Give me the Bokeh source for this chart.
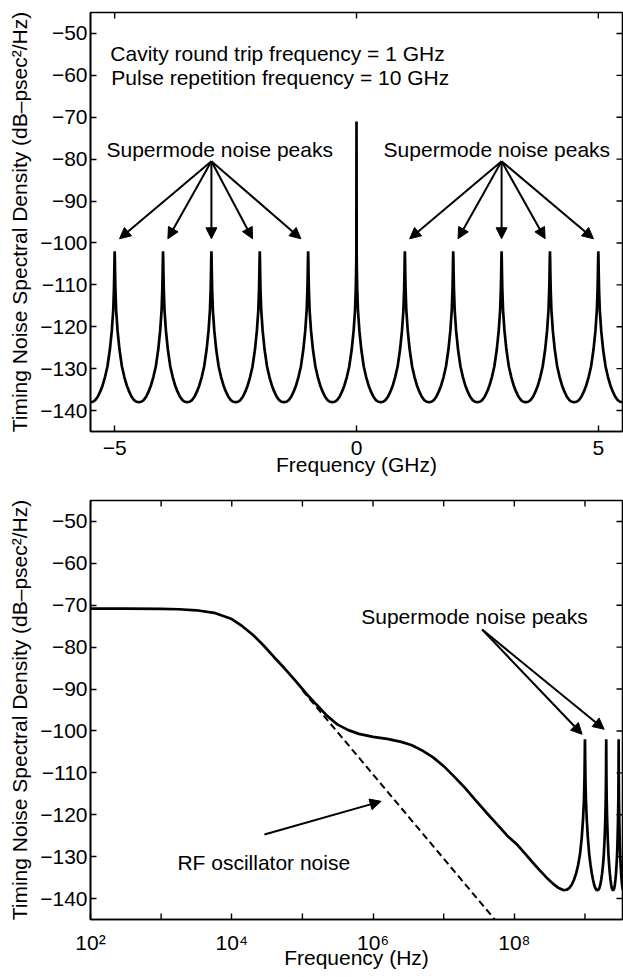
import math
from bokeh.plotting import figure
from bokeh.layouts import column
from bokeh.models import FixedTicker, Arrow, NormalHead, Label
from bokeh.embed import file_html
from bokeh.resources import INLINE

FONT = "Liberation Sans"
FS = "21px"

# ---------------- data ----------------
# top panel: supermode peaks (GHz) and their top levels (dB)
peak_ghz = [-5, -4, -3, -2, -1, 0, 1, 2, 3, 4, 5]
peak_top_db = [-102, -102, -102, -102, -102, -71, -102, -102, -102, -102, -102]
# shape of one peak: offset from the peak (GHz) and level (dB)
profile_offset_ghz = [0.0, 0.004, 0.008, 0.015, 0.03, 0.06, 0.1, 0.15, 0.2, 0.25, 0.3, 0.35, 0.4, 0.45, 0.5]
profile_db = [-102, -104, -107, -111, -116, -121, -125.5, -129.5, -132, -134, -135.5, -136.7, -137.5, -137.9, -138]

# bottom panel: broadband timing noise below the supermode region (Hz, dB)
bb_freq_hz = [1e2, 3.16e2, 1e3, 1.78e3, 3.16e3, 5.62e3, 1e4, 1.41e4, 2e4, 2.82e4, 3.98e4,
              5.62e4, 7.94e4, 1.12e5, 1.58e5, 2.24e5, 3.16e5, 4.47e5, 6.31e5, 1e6, 1.58e6,
              2.51e6, 3.55e6, 5.01e6, 7.08e6, 1e7, 1.41e7, 2e7, 2.82e7, 3.98e7, 5.62e7,
              7.94e7, 1.12e8, 1.58e8, 2.24e8, 2.82e8, 3.55e8, 4.17e8]
bb_db = [-70.8, -70.8, -70.85, -70.95, -71.2, -71.8, -73.3, -75.0, -77.1, -79.6, -82.4,
         -85.1, -88.0, -91.0, -93.7, -96.4, -98.5, -99.8, -100.7, -101.4, -101.9,
         -102.6, -103.4, -104.7, -106.3, -108.4, -110.9, -113.6, -116.5, -119.4, -122.2,
         -125.0, -127.3, -130.2, -133.1, -134.9, -136.5, -137.4]
# RF oscillator noise (dashed)
osc_freq_hz = [1e5, 6e7]
osc_db = [-90.3, -146.1]

y_ticks = [-140, -130, -120, -110, -100, -90, -80, -70, -60, -50]
top_x_ticks = [-5, 0, 5]
top_x_labels = ["\u22125", "0", "5"]
bot_x_ticks = [1e2, 1e4, 1e6, 1e8]
bot_x_labels = ["10\u00b2", "10\u2074", "10\u2076", "10\u2078"]
bot_x_minor = [1e3, 1e5, 1e7, 1e9]

TOP_X = (-5.5, 5.5)
BOT_X = (1e2, 3.4e9)
Y_R = (-145, -45)

# ---------------- build curves ----------------
signed_off = [-o for o in profile_offset_ghz[::-1]] + profile_offset_ghz[1:]
signed_db = profile_db[::-1] + profile_db[1:]

top_x, top_y = [], []
for c, top in zip(peak_ghz, peak_top_db):
    for k, (o, d) in enumerate(zip(signed_off, signed_db)):
        if top_x and k == 0:
            continue
        top_x.append(c + o)
        top_y.append(top if o == 0 else d)

bot_x = list(bb_freq_hz)
bot_y = list(bb_db)
for x, y in zip(top_x, top_y):
    if x >= 0.5:
        bot_x.append(x * 1e9)
        bot_y.append(y)


def style(p, xticks, xlabels, xr, all_x_ticks, x_label_standoff, x_axis_label_standoff):
    p.xgrid.visible = False
    p.ygrid.visible = False
    p.outline_line_color = "black"
    p.outline_line_width = 1.6
    p.background_fill_color = "white"
    p.border_fill_color = "white"
    main_x = p.xaxis[0]
    main_y = p.yaxis[0]
    main_x.ticker = FixedTicker(ticks=xticks)
    main_y.ticker = FixedTicker(ticks=y_ticks)
    main_x.major_label_overrides = {t: l for t, l in zip(xticks, xlabels)}
    main_y.major_label_overrides = {t: "\u2212" + str(-t) for t in y_ticks}
    for ax in (main_x, main_y):
        ax.axis_line_color = "black"
        ax.axis_line_width = 1.6
        ax.major_tick_in = 6
        ax.major_tick_out = 0
        ax.major_tick_line_width = 1.4
        ax.minor_tick_line_color = None
        ax.major_label_text_font = FONT
        ax.major_label_text_font_size = FS
        ax.major_label_text_color = "black"
        ax.axis_label_text_font = FONT
        ax.axis_label_text_font_size = FS
        ax.axis_label_text_font_style = "normal"
        ax.axis_label_text_color = "black"
    main_y.major_label_standoff = 3
    main_y.axis_label_standoff = 6
    main_x.major_label_standoff = x_label_standoff
    main_x.axis_label_standoff = x_axis_label_standoff
    # inward tick marks on the right and top edges (box style)
    p.scatter([xr[1]] * len(y_ticks), y_ticks, marker="dash", size=12,
              line_color="black", line_width=1.4)
    p.scatter(all_x_ticks, [Y_R[1]] * len(all_x_ticks), marker="dash", size=12, angle=math.pi / 2,
              line_color="black", line_width=1.4)


# ---------------- top panel ----------------
p1 = figure(frame_width=532, frame_height=419, x_range=TOP_X, y_range=Y_R,
            output_backend="svg", toolbar_location=None,
            min_border_left=90, min_border_right=1, min_border_top=12, min_border_bottom=59,
            x_axis_label="Frequency (GHz)",
            y_axis_label="Timing Noise Spectral Density (dB\u2013psec\u00b2/Hz)")
style(p1, top_x_ticks, top_x_labels, TOP_X, top_x_ticks, 9, -5)
p1.line(top_x, top_y, line_color="black", line_width=2.7)

for txt, x, y in [("Cavity round trip frequency = 1 GHz", -5.09, -54.8),
                  ("Pulse repetition frequency = 10 GHz", -5.07, -60.5),
                  ("Supermode noise peaks", -5.17, -77.7),
                  ("Supermode noise peaks", 0.56, -77.7)]:
    p1.add_layout(Label(x=x, y=y, text=txt, text_font=FONT, text_font_size=FS,
                        text_color="black", text_baseline="alphabetic", text_align="left"))

left_targets = [-4.9, -3.9, -3.0, -2.15, -1.15]
right_targets = [1.1, 2.1, 3.0, 3.9, 4.9]
for src, targets in [(-3.0, left_targets), (3.0, right_targets)]:
    for t in targets:
        p1.add_layout(Arrow(x_start=src, y_start=-80.5, x_end=t, y_end=-99,
                            line_color="black", line_width=2,
                            end=NormalHead(size=11, fill_color="black", line_color="black")))

# ---------------- bottom panel ----------------
p2 = figure(frame_width=532, frame_height=419, x_axis_type="log",
            x_range=BOT_X, y_range=Y_R,
            output_backend="svg", toolbar_location=None,
            min_border_left=90, min_border_right=1, min_border_top=10, min_border_bottom=57,
            x_axis_label="Frequency (Hz)",
            y_axis_label="Timing Noise Spectral Density (dB\u2013psec\u00b2/Hz)")
style(p2, bot_x_ticks, bot_x_labels, BOT_X, bot_x_ticks + bot_x_minor, 11, -11)
# odd-decade ticks on the bottom edge (unlabelled)
p2.scatter(bot_x_minor, [Y_R[0]] * len(bot_x_minor), marker="dash", size=12, angle=math.pi / 2,
           line_color="black", line_width=1.4)
p2.line(osc_freq_hz, osc_db, line_color="black", line_width=2, line_dash="7 4")
p2.line(bot_x, bot_y, line_color="black", line_width=2.7)

p2.add_layout(Label(x=6.8e5, y=-72.7, text="Supermode noise peaks", text_font=FONT,
                    text_font_size=FS, text_color="black", text_baseline="alphabetic"))
p2.add_layout(Label(x=1.7e3, y=-131.4, text="RF oscillator noise", text_font=FONT,
                    text_font_size=FS, text_color="black", text_baseline="alphabetic"))
for xe, ye in [(9.1e8, -100.8), (1.87e9, -99.6)]:
    p2.add_layout(Arrow(x_start=3.5e7, y_start=-75.8, x_end=xe, y_end=ye,
                        line_color="black", line_width=2,
                        end=NormalHead(size=11, fill_color="black", line_color="black")))
p2.add_layout(Arrow(x_start=2.9e4, y_start=-124.7, x_end=1.3e6, y_end=-116.8,
                    line_color="black", line_width=2,
                    end=NormalHead(size=11, fill_color="black", line_color="black")))

layout = column(p1, p2)
open("out.html", "w").write(file_html(layout, INLINE))
